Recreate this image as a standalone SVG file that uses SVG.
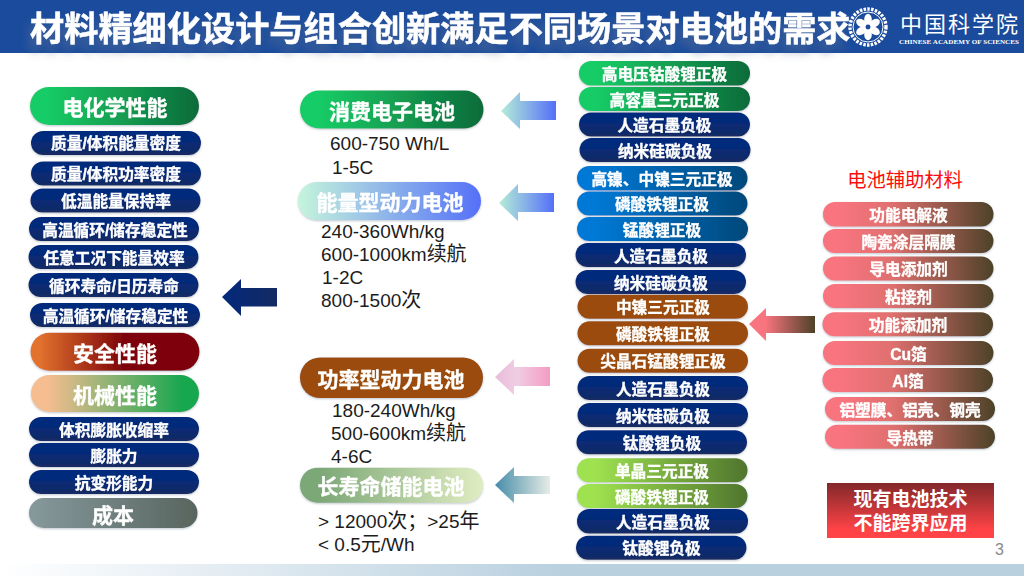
<svg xmlns="http://www.w3.org/2000/svg" width="1024" height="576" viewBox="0 0 1024 576">
<defs>
<linearGradient id="gGreen"><stop offset="0.1" stop-color="#17cc66"/><stop offset="1" stop-color="#0e6b3a"/></linearGradient>
<linearGradient id="gNavy" x1="0" y1="0" x2="0" y2="1"><stop offset="0.3" stop-color="#03297c"/><stop offset="1" stop-color="#142a63"/></linearGradient>
<linearGradient id="gBlue"><stop offset="0.1" stop-color="#0079d6"/><stop offset="1" stop-color="#04487a"/></linearGradient>
<linearGradient id="gEnergy"><stop offset="0" stop-color="#c5f5dc"/><stop offset="1" stop-color="#5470f8"/></linearGradient>
<linearGradient id="gSafe"><stop offset="0.05" stop-color="#e2722e"/><stop offset="0.55" stop-color="#7e0408"/></linearGradient>
<linearGradient id="gMech"><stop offset="0.1" stop-color="#f5bd90"/><stop offset="0.9" stop-color="#17a750"/></linearGradient>
<linearGradient id="gCost"><stop offset="0" stop-color="#86999c"/><stop offset="1" stop-color="#58655e"/></linearGradient>
<linearGradient id="gLong"><stop offset="0.1" stop-color="#7ca776"/><stop offset="1" stop-color="#e0edc2"/></linearGradient>
<linearGradient id="gAux"><stop offset="0.1" stop-color="#f8747f"/><stop offset="0.4" stop-color="#e0706f"/><stop offset="1" stop-color="#4d4228"/></linearGradient>
<linearGradient id="gLime"><stop offset="0.1" stop-color="#9fe250"/><stop offset="1" stop-color="#4f752d"/></linearGradient>
<linearGradient id="gRedBox" x1="0" y1="0" x2="0" y2="1"><stop offset="0" stop-color="#82282a"/><stop offset="0.85" stop-color="#ff4346"/></linearGradient>
<linearGradient id="gArrowNavy"><stop offset="0" stop-color="#03297c"/><stop offset="1" stop-color="#142a63"/></linearGradient>
<linearGradient id="gArrowEnergy"><stop offset="0" stop-color="#b5edd8"/><stop offset="1" stop-color="#5470f8"/></linearGradient>
<linearGradient id="gArrowPink"><stop offset="0" stop-color="#e8bcdc"/><stop offset="0.4" stop-color="#f0cde2"/><stop offset="1" stop-color="#f39cc3"/></linearGradient>
<linearGradient id="gArrowTeal"><stop offset="0" stop-color="#468ca8"/><stop offset="1" stop-color="#e6ece6"/></linearGradient>
<linearGradient id="gArrowAux"><stop offset="0.25" stop-color="#f8747f"/><stop offset="1" stop-color="#4d4228"/></linearGradient>
<linearGradient id="gBottom"><stop offset="0" stop-color="#ffffff"/><stop offset="0.55" stop-color="#b9d0df"/><stop offset="1" stop-color="#b9d0df"/></linearGradient>
<filter id="titleShadow" x="-3%" y="-30%" width="106%" height="180%"><feGaussianBlur in="SourceAlpha" stdDeviation="4"/><feOffset dx="-4" dy="9"/><feComponentTransfer><feFuncA type="linear" slope=".5"/></feComponentTransfer><feColorMatrix type="matrix" values="0 0 0 0 .11 0 0 0 0 .17 0 0 0 0 .31 0 0 0 1 0"/><feMerge><feMergeNode/><feMergeNode in="SourceGraphic"/></feMerge></filter>
<filter id="soft" x="-5%" y="-20%" width="110%" height="150%"><feDropShadow dx="0" dy="1" stdDeviation="0.8" flood-color="#8a98a8" flood-opacity="0.55"/></filter>
</defs>
<style>
text{font-family:"Liberation Sans","Noto Sans CJK SC",sans-serif}
.p{filter:url(#soft)}
.l{fill:#fff;font-weight:700;font-size:15.7px;text-anchor:middle;stroke:#fff;stroke-width:.35px}
.h{fill:#fff;font-weight:700;font-size:21px;text-anchor:middle;stroke:#fff;stroke-width:.35px}
.b{fill:#1c1c1c;font-size:19px}
.b tspan{font-size:20px}
.navy{fill:url(#gNavy)}.green{fill:url(#gGreen)}.blue{fill:url(#gBlue)}.brown{fill:#9a4c0a}.lime{fill:url(#gLime)}.aux{fill:url(#gAux)}
</style>
<rect width="1024" height="576" fill="#fff"/>
<rect y="564" width="1024" height="12" fill="url(#gBottom)"/>
<g id="header">
<rect width="1024" height="53" fill="#1a4b9c"/>
<text x="30" y="41" font-size="34.200" font-weight="700" fill="#fff" stroke="#fff" stroke-width=".5" filter="url(#titleShadow)">材料精细化设计与组合创新满足不同场景对电池的需求</text>
</g>
<g id="logo">
<circle cx="868" cy="27" r="18" fill="#1a4b9c" stroke="#fff" stroke-width="3.4" stroke-dasharray="2.5 1.3"/>
<circle cx="868" cy="27" r="15" fill="none" stroke="#fff" stroke-width="1"/>
<g fill="#fff"><ellipse cx="868" cy="19.5" rx="3.8" ry="5.8"/><ellipse cx="868" cy="34.5" rx="3.8" ry="5.8"/><ellipse cx="861.500" cy="23.200" rx="3.8" ry="5.8" transform="rotate(-60 861.500 23.200)"/><ellipse cx="874.500" cy="23.200" rx="3.8" ry="5.8" transform="rotate(60 874.500 23.200)"/><ellipse cx="861.500" cy="30.800" rx="3.8" ry="5.8" transform="rotate(60 861.500 30.800)"/><ellipse cx="874.500" cy="30.800" rx="3.8" ry="5.8" transform="rotate(-60 874.500 30.800)"/></g>
<circle cx="868" cy="27" r="2.4" fill="#1a4b9c"/>
<text x="900" y="32" font-size="22" fill="#fff" style="font-family:'Liberation Serif','Noto Sans CJK TC',sans-serif;letter-spacing:2px">中国科学院</text>
<text x="899" y="43.500" font-size="7.100" font-weight="700" fill="#fff" style="font-family:'Liberation Serif',serif;letter-spacing:.05px">CHINESE ACADEMY OF SCIENCES</text>
</g>
<g id="connectors">
<path d="M222 297L241 279V288H277V306.500H241V316Z" fill="url(#gArrowNavy)"/>
<path d="M501 111L520 92V101H556V120H520V129Z" fill="url(#gArrowEnergy)"/>
<path d="M499 203L518 184V193H554V212H518V221Z" fill="url(#gArrowEnergy)"/>
<path d="M495 377L514 359V367H550V386H514V395Z" fill="url(#gArrowPink)"/>
<path d="M495 485L514 467V476H550V494H514V503Z" fill="url(#gArrowTeal)"/>
<path d="M749 324L766 308V316H815V333H766V341Z" fill="url(#gArrowAux)"/>
</g>
<g id="n1" class="p"><rect x="30" y="87" width="169" height="38" rx="19" fill="url(#gGreen)"/><text class="h" x="115" y="115">电化学性能</text></g>
<g id="n2" class="p"><rect x="31" y="131" width="170" height="24" rx="12" class="navy"/><text class="l" x="116" y="149">质量/体积能量密度</text></g>
<g id="n3" class="p"><rect x="31" y="161.500" width="170" height="24" rx="12" class="navy"/><text class="l" x="116" y="180">质量/体积功率密度</text></g>
<g id="n4" class="p"><rect x="30.500" y="188.500" width="170" height="24" rx="12" class="navy"/><text class="l" x="116" y="207">低温能量保持率</text></g>
<g id="n5" class="p"><rect x="29" y="217" width="170" height="24" rx="12" class="navy"/><text class="l" x="115" y="236">高温循环/储存稳定性</text></g>
<g id="n6" class="p"><rect x="28.500" y="245" width="170" height="24" rx="12" class="navy"/><text class="l" x="114" y="264">任意工况下能量效率</text></g>
<g id="n7" class="p"><rect x="28.500" y="273" width="170" height="24" rx="12" class="navy"/><text class="l" x="114" y="292">循环寿命/日历寿命</text></g>
<g id="n8" class="p"><rect x="30" y="303" width="170" height="24" rx="12" class="navy"/><text class="l" x="115.500" y="322">高温循环/储存稳定性</text></g>
<g id="n9" class="p"><rect x="30.500" y="332.700" width="169" height="38" rx="19" fill="url(#gSafe)"/><text class="h" x="115" y="361">安全性能</text></g>
<g id="n10" class="p"><rect x="31" y="375" width="168" height="37" rx="18.500" fill="url(#gMech)"/><text class="h" x="115" y="403">机械性能</text></g>
<g id="n11" class="p"><rect x="29" y="417" width="170" height="24" rx="12" class="navy"/><text class="l" x="114" y="436">体积膨胀收缩率</text></g>
<g id="n12" class="p"><rect x="29" y="443" width="170" height="24" rx="12" class="navy"/><text class="l" x="114" y="462">膨胀力</text></g>
<g id="n13" class="p"><rect x="29" y="470" width="170" height="24" rx="12" class="navy"/><text class="l" x="114" y="489">抗变形能力</text></g>
<g id="n14" class="p"><rect x="29" y="498" width="168.500" height="30" rx="15" fill="url(#gCost)"/><text class="h" x="113" y="523">成本</text></g>
<g id="c1" class="p"><rect x="300" y="90.500" width="183.500" height="38" rx="19" fill="url(#gGreen)"/><text class="h" x="392" y="119">消费电子电池</text></g>
<text class="b" x="330" y="150">600-750 Wh/L</text><text class="b" x="332" y="174">1-5C</text>
<g id="c2" class="p"><rect x="298" y="182" width="183" height="38" rx="19" fill="url(#gEnergy)"/><text class="h" x="390" y="210">能量型动力电池</text></g>
<text class="b" x="321" y="238">240-360Wh/kg</text><text class="b" x="321" y="261">600-1000km<tspan>续航</tspan></text><text class="b" x="322" y="284">1-2C</text><text class="b" x="321" y="307">800-1500<tspan>次</tspan></text>
<g id="c3" class="p"><rect x="300" y="357.500" width="183" height="40.500" rx="20" fill="#9a4c0a"/><text class="h" x="391" y="387">功率型动力电池</text></g>
<text class="b" x="332" y="417">180-240Wh/kg</text><text class="b" x="331" y="440">500-600km<tspan>续航</tspan></text><text class="b" x="331" y="463">4-6C</text>
<g id="c4" class="p"><rect x="300" y="467.700" width="183" height="35" rx="17.500" fill="url(#gLong)"/><text class="h" x="391" y="494">长寿命储能电池</text></g>
<text class="b" x="318" y="528">&gt; 12000<tspan>次；</tspan>&gt;25<tspan>年</tspan></text><text class="b" x="318" y="551">&lt; 0.5<tspan>元</tspan>/Wh</text>
<g id="m1" class="p"><rect x="579" y="61" width="171" height="24.500" rx="12" class="green"/><text class="l" x="664.500" y="80">高电压钴酸锂正极</text></g>
<g id="m2" class="p"><rect x="579" y="87" width="171" height="24" rx="12" class="green"/><text class="l" x="664.500" y="106">高容量三元正极</text></g>
<g id="m3" class="p"><rect x="579" y="112.500" width="171" height="24" rx="12" class="navy"/><text class="l" x="664.500" y="131">人造石墨负极</text></g>
<g id="m4" class="p"><rect x="579.500" y="138" width="171" height="24" rx="12" class="navy"/><text class="l" x="665" y="157">纳米硅碳负极</text></g>
<g id="m5" class="p"><rect x="577" y="166" width="170.500" height="24.500" rx="12" class="blue"/><text class="l" x="662" y="185">高镍、中镍三元正极</text></g>
<g id="m6" class="p"><rect x="577" y="191.500" width="170.500" height="24" rx="12" class="blue"/><text class="l" x="662" y="210">磷酸铁锂正极</text></g>
<g id="m7" class="p"><rect x="577" y="217" width="171" height="24" rx="12" class="blue"/><text class="l" x="662" y="236">锰酸锂正极</text></g>
<g id="m8" class="p"><rect x="575.500" y="243" width="170.500" height="24" rx="12" class="navy"/><text class="l" x="661" y="262">人造石墨负极</text></g>
<g id="m9" class="p"><rect x="575.500" y="270" width="170.500" height="24" rx="12" class="navy"/><text class="l" x="661" y="289">纳米硅碳负极</text></g>
<g id="m10" class="p"><rect x="577.500" y="294.700" width="170.500" height="24" rx="12" class="brown"/><text class="l" x="663" y="313">中镍三元正极</text></g>
<g id="m11" class="p"><rect x="577.500" y="321.300" width="170.500" height="24" rx="12" class="brown"/><text class="l" x="663" y="340">磷酸铁锂正极</text></g>
<g id="m12" class="p"><rect x="577.500" y="348.700" width="170.500" height="24" rx="12" class="brown"/><text class="l" x="663" y="367">尖晶石锰酸锂正极</text></g>
<g id="m13" class="p"><rect x="577.500" y="376" width="170.500" height="24" rx="12" class="navy"/><text class="l" x="663" y="394.500">人造石墨负极</text></g>
<g id="m14" class="p"><rect x="577.500" y="403" width="170.500" height="24" rx="12" class="navy"/><text class="l" x="663" y="422">纳米硅碳负极</text></g>
<g id="m15" class="p"><rect x="576.500" y="430.300" width="170.500" height="24" rx="12" class="navy"/><text class="l" x="662" y="449">钛酸锂负极</text></g>
<g id="m16" class="p"><rect x="577" y="458.300" width="170.500" height="24" rx="12" class="lime"/><text class="l" x="662" y="477">单晶三元正极</text></g>
<g id="m17" class="p"><rect x="577" y="484" width="170.500" height="24" rx="12" class="lime"/><text class="l" x="662" y="503">磷酸铁锂正极</text></g>
<g id="m18" class="p"><rect x="577" y="509" width="171" height="24.500" rx="12" class="navy"/><text class="l" x="663" y="528">人造石墨负极</text></g>
<g id="m19" class="p"><rect x="576" y="535.700" width="170.500" height="24" rx="12" class="navy"/><text class="l" x="661.500" y="554">钛酸锂负极</text></g>
<text x="905" y="186.500" font-size="19.300" fill="#fb0d0d" text-anchor="middle">电池辅助材料</text>
<g id="a1" class="p"><rect x="823" y="202" width="170.500" height="24.500" rx="12" class="aux"/><text class="l" x="908.500" y="221">功能电解液</text></g>
<g id="a2" class="p"><rect x="823" y="229" width="170.500" height="24" rx="12" class="aux"/><text class="l" x="908.500" y="248">陶瓷涂层隔膜</text></g>
<g id="a3" class="p"><rect x="823" y="256.500" width="170.500" height="24" rx="12" class="aux"/><text class="l" x="908.500" y="275">导电添加剂</text></g>
<g id="a4" class="p"><rect x="823" y="284" width="170.500" height="24" rx="12" class="aux"/><text class="l" x="908.500" y="303">粘接剂</text></g>
<g id="a5" class="p"><rect x="822.500" y="312.300" width="170.500" height="24" rx="12" class="aux"/><text class="l" x="908" y="331">功能添加剂</text></g>
<g id="a6" class="p"><rect x="823" y="341" width="170.500" height="24" rx="12" class="aux"/><text class="l" x="908.500" y="360">Cu箔</text></g>
<g id="a7" class="p"><rect x="822.500" y="368" width="170.500" height="24" rx="12" class="aux"/><text class="l" x="908" y="387">Al箔</text></g>
<g id="a8" class="p"><rect x="825" y="397" width="170" height="24" rx="12" class="aux"/><text class="l" x="910" y="416">铝塑膜、铝壳、钢壳</text></g>
<g id="a9" class="p"><rect x="825" y="424.700" width="170" height="24" rx="12" class="aux"/><text class="l" x="910" y="443.500">导热带</text></g>
<g id="note"><rect x="827" y="483" width="167" height="55" fill="url(#gRedBox)"/><text x="910.500" y="506" font-size="19" font-weight="700" fill="#fff" text-anchor="middle">现有电池技术</text><text x="910.500" y="530" font-size="19" font-weight="700" fill="#fff" text-anchor="middle">不能跨界应用</text></g>
<text x="995" y="555" font-size="16" fill="#8a8a8a">3</text>
</svg>
